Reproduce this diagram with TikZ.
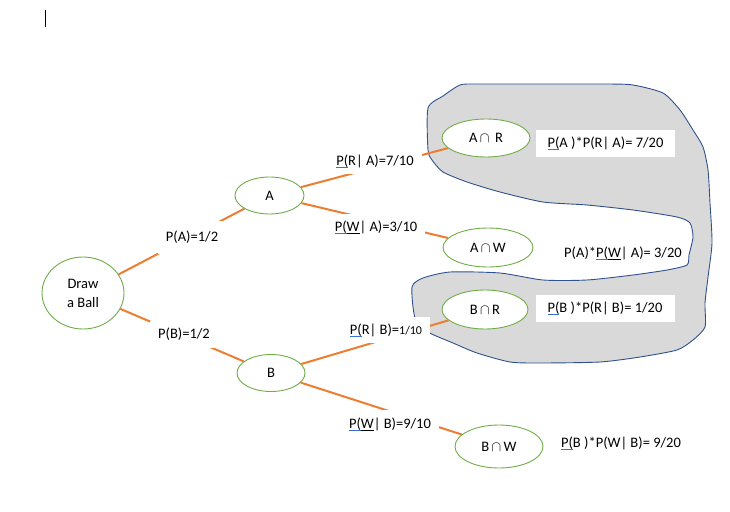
\documentclass[tikz,border=0pt]{standalone}
\usepackage{fontspec}
\setmainfont{Carlito}
\usetikzlibrary{shapes.geometric}
\definecolor{ulblue}{HTML}{3B6FD0}
\definecolor{treeor}{HTML}{ED7D31}
\definecolor{treegr}{HTML}{70AD47}
\definecolor{blobfill}{HTML}{D9D9D9}
\definecolor{blobline}{HTML}{2F528F}
\newcommand\bul[1]{{\setbox0\hbox{#1}\rlap{\textcolor{ulblue}{\rule[-2.6pt]{\wd0}{0.9pt}}}\box0}}
\newcommand\kul[1]{{\setbox0\hbox{#1}\rlap{\rule[-2.6pt]{\wd0}{0.9pt}}\box0}}
\tikzset{
  x=1pt, y=-1pt,
  every node/.style={font=\fontsize{14.5}{19}\selectfont},
  evt/.style={ellipse, draw=treegr, line width=0.9pt, fill=white, inner sep=0pt},
  branch/.style={draw=treeor, line width=2pt},
  lbl/.style={fill=white, inner xsep=8pt, inner ysep=0pt, minimum height=27pt},
  prodbox/.style={fill=white, inner sep=0pt, minimum width=139pt, minimum height=27pt},
  prodtxt/.style={inner sep=0pt},
}
\begin{document}
\begin{tikzpicture}
\useasboundingbox (0,0) rectangle (730,511);
% text cursor
\draw[line width=1pt] (45,10) -- (45,27);
% shaded region
\draw[blobline, fill=blobfill, line width=0.9pt] plot[smooth cycle, tension=0.4] coordinates {
(428,108) (443,96) (460,85) (477,84) (540,84) (607,84) (633,85) (663,93) (680,110) (693,130) (703,147) (708,170) (710,203) (712,243) (708,277) (705,303) (705,327) (693,340) (677,350) (640,357) (600,362) (540,363) (510,362) (477,353) (453,343) (428,332) (415,318) (412,287) (423,278) (450,272) (500,273) (543,280) (587,280) (633,275) (667,270) (687,265) (689,255) (693,237) (690,223) (677,217) (633,210) (587,205) (543,202) (500,192) (467,182) (443,172) (432,160) (428,150)};
% nodes
\node[evt, minimum width=82pt, minimum height=72pt, align=center] (draw) at (83,293) {Draw\\a Ball};
\node[evt, minimum width=69pt, minimum height=37pt] (nA) at (269.5,195.5) {A};
\node[evt, minimum width=68pt, minimum height=37pt] (nB) at (271,373) {B};
\node[evt, minimum width=88pt, minimum height=38pt] (nAR) at (486,138) {A$\,\cap\,$ R};
\node[evt, minimum width=90pt, minimum height=39pt] (nAW) at (488,247.5) {A$\,\cap\,$W};
\node[evt, minimum width=86pt, minimum height=39pt] (nBR) at (485,309.5) {B$\,\cap\,$R};
\node[evt, minimum width=88pt, minimum height=43pt] (nBW) at (499,446.5) {B$\,\cap\,$W};
% branches
\draw[branch] (draw) -- (nA);
\draw[branch] (draw) -- (nB);
\draw[branch] (nA) -- (nAR);
\draw[branch] (nA) -- (nAW);
\draw[branch] (nB) -- (nBR);
\draw[branch] (nB) -- (nBW);
% branch labels
\node[lbl, minimum height=33pt] (lA) at (192,237) {P(A)=1/2};
\node[lbl] (lB) at (184,334) {P(B)=1/2};
\node[lbl, minimum height=26pt] (lRA) at (375,161) {\bul{P(}R| A)=7/10};
\node[lbl] (lWA) at (376,227) {\bul{P(}\kul{W}| A)=3/10};
\node[lbl, minimum height=26pt] (lRB) at (386,330) {\bul{P(}R| B)={\fontsize{12}{14}\selectfont 1/10}};
\node[lbl, minimum height=28pt] (lWB) at (390,424) {\bul{P(}\kul{W}| B)=9/10};
% products
\node[prodbox] (bAR) at (605.5,143.5) {};
\node[prodtxt] (pAR) at (605.5,143.5) {\bul{P(}A )*P(R| A)= 7/20};
\node[prodtxt] (pAW) at (623,253) {P(A)*\bul{P(}\kul{W}| A)= 3/20};
\node[prodbox] (bBR) at (605,308.5) {};
\node[prodtxt] (pBR) at (605,308.5) {\bul{P(}B )*P(R| B)= 1/20};
\node[prodtxt] (pBW) at (621,443) {\bul{P(}B )*P(W| B)= 9/20};
\end{tikzpicture}
\end{document}
